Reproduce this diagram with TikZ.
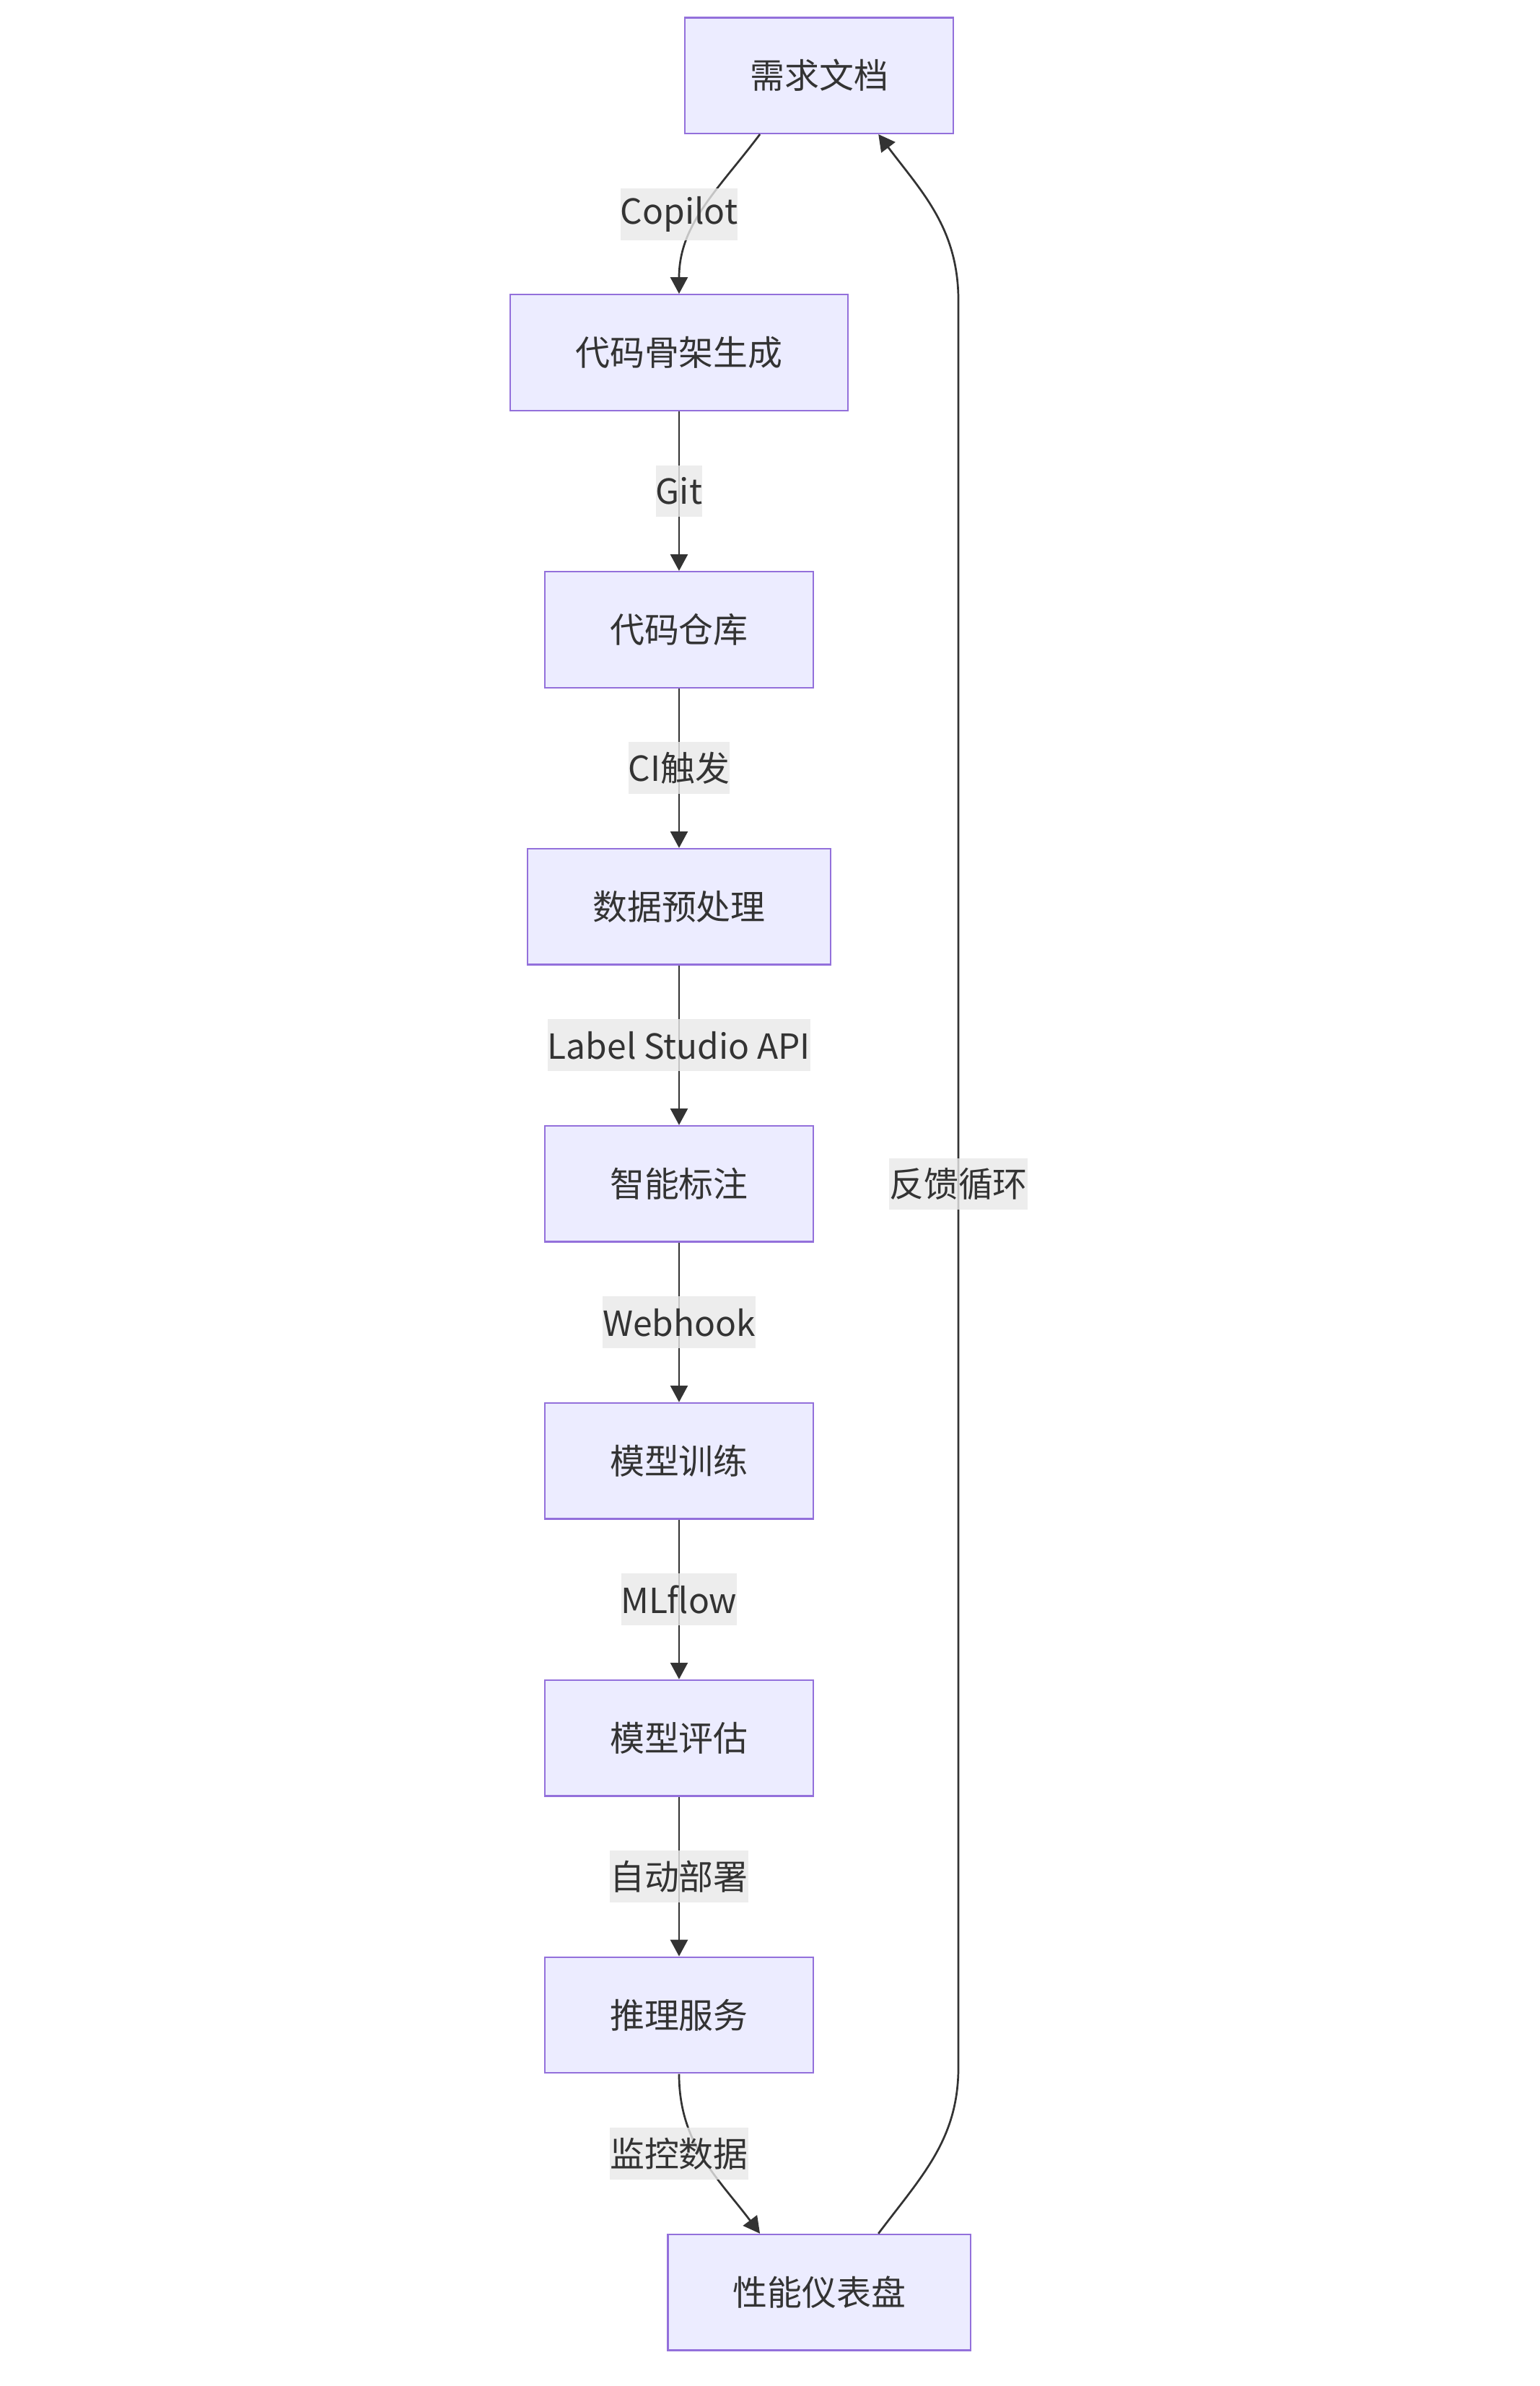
\documentclass[tikz,border=0pt]{standalone}
\usepackage{fontspec}
\setmainfont{Noto Sans CJK SC}
\usepackage{tikz}
\usetikzlibrary{positioning}
\usetikzlibrary{arrows.meta}
\tikzset{>={Triangle[width=11.5pt,length=11pt]}}
\usepackage{xcolor}
\definecolor{boxfill}{HTML}{ECECFF}
\definecolor{boxline}{HTML}{9370DB}
\definecolor{ink}{HTML}{333333}
\definecolor{lblfill}{HTML}{E8E8E8}

\begin{document}
\begin{tikzpicture}[x=1pt,y=1pt,->,color=ink,line width=1.3pt,
		node distance=106.1pt,font=\fontsize{23pt}{34.5pt}\selectfont]
		\tikzstyle{box}=[rectangle,fill=boxfill,draw=boxline,line width=1.1pt,
		minimum height=77pt,inner xsep=43.2pt,inner ysep=0pt,outer sep=0.6pt,text=ink]
		\tikzstyle{lbl}=[fill=lblfill,fill opacity=0.8,text opacity=1,
		inner sep=0pt,minimum height=34.5pt,text=ink]
		
		\useasboundingbox (0,0) rectangle (1024,-1587);
		
		\node[box] (req)   at (544.9,-50.2) {需求文档};
		\node[box] (skel)  at (451.7,-234.5) {代码骨架生成};
		\node[box] (repo)  [below=of skel]  {代码仓库};
		\node[box] (prep)  [below=of repo]  {数据预处理};
		\node[box] (anno)  [below=of prep]  {智能标注};
		\node[box] (train) [below=of anno]  {模型训练};
		\node[box] (eval)  [below=of train] {模型评估};
		\node[box] (serve) [below=of eval]  {推理服务};
		\node[box] (board) at (544.9,-1524.7) {性能仪表盘};
		
		% main chain
		\draw ([xshift=-39.4pt]req.south) to[out=-127,in=90] (skel.north);
		\node[lbl] at ([yshift=53pt]skel.north) {Copilot};
		\path (skel) edge node[lbl] {Git} (repo);
		\path (repo) edge node[lbl] {CI触发} (prep);
		\path (prep) edge node[lbl] {Label Studio API} (anno);
		\path (anno) edge node[lbl] {Webhook} (train);
		\path (train) edge node[lbl] {MLflow} (eval);
		\path (eval) edge node[lbl] {自动部署} (serve);
		\draw (serve.south) to[out=-90,in=127] ([xshift=-39.4pt]board.north);
		\node[lbl] at ([yshift=-53pt]serve.south) {监控数据};
		
		% feedback loop
		\coordinate (loopdown) at (637.5,-1375);
		\coordinate (loopup) at (637.5,-200);
		\draw ([xshift=39.4pt]board.north) to[out=53,in=-90] (loopdown)
		-- node[lbl] {反馈循环} (loopup) to[out=90,in=-53] ([xshift=39.4pt]req.south);
\end{tikzpicture}
\end{document}
